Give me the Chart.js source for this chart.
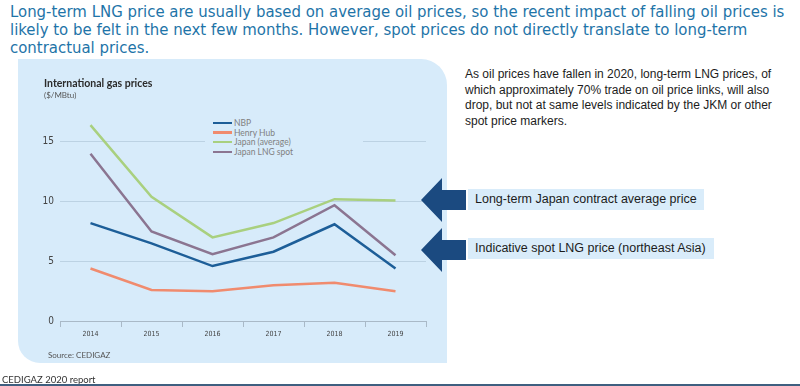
<!DOCTYPE html>
<html>
<head>
<meta charset="utf-8">
<script src="https://cdn.jsdelivr.net/npm/chart.js@4.4.1/dist/chart.umd.min.js"></script>
<style>
  body { margin: 0; width: 800px; height: 386px; background: #fff; position: relative; overflow: hidden; font-family: "Liberation Sans", Arial, sans-serif; }
  .headline { position: absolute; left: 10px; top: 3px; white-space: nowrap; color: #1e74a8; font-family: "DejaVu Sans Condensed", sans-serif; font-size: 16.6px; line-height: 18px; }
  .panel { position: absolute; left: 18px; top: 59px; width: 429px; height: 304px; background: #d7ebfa; border-radius: 0 26px 0 22px; }
  .ptitle { position: absolute; left: 44px; top: 77px; font-family: Lato, sans-serif; font-weight: bold; font-size: 10.5px; color: #2b2b2b; }
  .punit { position: absolute; left: 44px; top: 90px; font-family: Lato, sans-serif; font-size: 8px; color: #555; }
  .psource { position: absolute; left: 48px; top: 350px; font-family: Lato, sans-serif; font-size: 8px; color: #555; }
  #chart { position: absolute; left: 22px; top: 58px; }
  .legend { position: absolute; left: 205px; top: 116px; width: 158px; height: 42px; background: #d7ebfa; }
  .legend div { position: absolute; left: 8px; height: 10px; font-family: Lato, sans-serif; font-size: 8.5px; line-height: 10px; color: #808080; white-space: nowrap; }
  .legend span { display: inline-block; width: 19px; height: 2.5px; vertical-align: middle; margin-right: 2px; position: relative; top: -1px; }
  .note { position: absolute; left: 465px; top: 67px; width: 330px; font-size: 12px; line-height: 15.6px; color: #1c1c1c; }
  .box { position: absolute; left: 468px; height: 21px; line-height: 21px; padding-left: 7px; background: #d9ecfa; font-size: 12.5px; color: #1c1c1c; box-sizing: border-box; }
  .footer { position: absolute; left: 2px; top: 374px; font-family: Lato, sans-serif; font-size: 9.5px; color: #333; }
  .bottomline { position: absolute; left: 0; top: 384px; width: 800px; height: 2px; background: #3f5f80; }
  svg { position: absolute; left: 0; top: 0; }
</style>
</head>
<body>
<div class="headline">Long-term LNG price are usually based on average oil prices, so the recent impact of falling oil prices is<br>likely to be felt in the next few months. However, spot prices do not directly translate to long-term<br>contractual prices.</div>

<div class="panel"></div>
<canvas id="chart" width="425" height="305"></canvas>
<div class="ptitle">International gas prices</div>
<div class="punit">($/MBtu)</div>
<div class="psource">Source: CEDIGAZ</div>
<div class="legend" id="legend"></div>

<div class="note">As oil prices have fallen in 2020, long-term LNG prices, of which approximately 70% trade on oil price links, will also drop, but not at same levels indicated by the JKM or other spot price markers.</div>

<svg width="800" height="386">
  <polygon points="421,200 442,178 442,190 466,190 466,210 442,210 442,222" fill="#1b4a80"/>
  <polygon points="421,250 442,228 442,240 466,240 466,260 442,260 442,272" fill="#1b4a80"/>
</svg>
<div class="box" style="top:189px;width:236px;">Long-term Japan contract average price</div>
<div class="box" style="top:238px;width:246px;">Indicative spot LNG price (northeast Asia)</div>

<div class="footer">CEDIGAZ 2020 report</div>
<div class="bottomline"></div>

<script>
const years = ['2014', '2015', '2016', '2017', '2018', '2019'];
const nbp = [8.2, 6.5, 4.6, 5.8, 8.1, 4.4];
const henryHub = [4.4, 2.6, 2.5, 3.0, 3.2, 2.5];
const japanAverage = [16.4, 10.4, 7.0, 8.2, 10.2, 10.1];
const japanLngSpot = [14.0, 7.5, 5.6, 7.0, 9.7, 5.5];
const yTicks = [0, 5, 10, 15];

const series = [
  { label: 'NBP', data: nbp, color: '#1d5e98' },
  { label: 'Henry Hub', data: henryHub, color: '#f08b6e' },
  { label: 'Japan (average)', data: japanAverage, color: '#a9d07f' },
  { label: 'Japan LNG spot', data: japanLngSpot, color: '#8b7591' }
];

// legend drawn as html over the chart
const legend = document.getElementById('legend');
series.forEach((s, i) => {
  const row = document.createElement('div');
  row.style.top = (2 + i * 9.7) + 'px';
  row.innerHTML = '<span style="background:' + s.color + '"></span>' + s.label;
  legend.appendChild(row);
});

const tickFont = { family: '"DejaVu Sans Condensed", sans-serif' };

new Chart(document.getElementById('chart'), {
  type: 'line',
  data: {
    labels: years,
    datasets: series.map(s => ({
      label: s.label,
      data: s.data,
      borderColor: s.color,
      backgroundColor: s.color,
      borderWidth: 2.5,
      pointRadius: 0,
      tension: 0
    }))
  },
  options: {
    responsive: false,
    animation: false,
    devicePixelRatio: 1,
    layout: { padding: { left: 0, right: 21, top: 60, bottom: 12 } },
    plugins: { legend: { display: false }, tooltip: { enabled: false } },
    scales: {
      x: {
        offset: true,
        grid: { offset: true, drawOnChartArea: false, drawTicks: true, tickLength: 6, color: '#a9b9c7' },
        border: { color: '#a9b9c7' },
        ticks: { font: { ...tickFont, size: 7 }, color: '#444', padding: 3 },
        afterFit: s => { s.height = 30; }
      },
      y: {
        min: 0,
        max: 17,
        afterBuildTicks: s => { s.ticks = yTicks.map(v => ({ value: v })); },
        afterFit: s => { s.width = 38; },
        grid: { color: '#bcd2e3', drawTicks: false },
        border: { display: false },
        ticks: { font: { ...tickFont, size: 10 }, color: '#444', padding: 6 }
      }
    }
  }
});
</script>
</body>
</html>
